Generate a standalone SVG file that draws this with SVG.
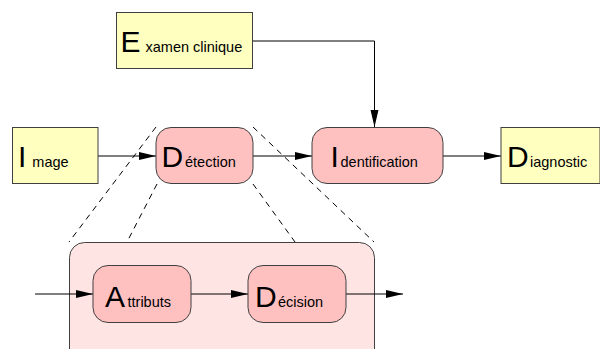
<svg xmlns="http://www.w3.org/2000/svg" width="600" height="349" viewBox="0 0 600 349">
  <style>
    .doc { fill: #ffffc0; stroke: #404040; stroke-width: 1; }
    .proc { fill: #ffc0c0; stroke: #404040; stroke-width: 1; }
    .zoom { fill: #ffe4e4; stroke: #404040; stroke-width: 1; }
    .link { fill: none; stroke: #000; stroke-width: 1; }
    .dash { fill: none; stroke: #000; stroke-width: 1; stroke-dasharray: 6 5; }
    text { font-family: "Liberation Sans", Arial, sans-serif; fill: #000; }
    .cap { font-size: 30px; }
    .rest { font-size: 14.5px; }
  </style>
  <defs>
    <marker id="arrow" markerUnits="userSpaceOnUse" markerWidth="18" markerHeight="9" refX="17" refY="4" orient="auto">
      <path d="M0,0 L17,4 L0,8 z" fill="#000"/>
    </marker>
  </defs>

  <!-- projection lines from the Détection block to its expanded view -->
  <g id="projection">
    <line class="dash" x1="156" y1="127" x2="69" y2="242"/>
    <line class="dash" x1="157" y1="184" x2="127" y2="242"/>
    <line class="dash" x1="253" y1="184" x2="295" y2="242"/>
    <line class="dash" x1="253" y1="127" x2="374" y2="242"/>
  </g>

  <!-- expanded view of Détection -->
  <g id="detail">
    <rect class="zoom" x="69.5" y="242.5" width="305" height="130" rx="15"/>
  </g>

  <g id="connectors">
    <polyline class="link" points="253,41 374.5,41 374.5,127" marker-end="url(#arrow)"/>
    <line class="link" x1="98" y1="156" x2="156" y2="156" marker-end="url(#arrow)"/>
    <line class="link" x1="253" y1="156" x2="312" y2="156" marker-end="url(#arrow)"/>
    <line class="link" x1="443" y1="156" x2="501" y2="156" marker-end="url(#arrow)"/>
    <line class="link" x1="35" y1="294" x2="93" y2="294" marker-end="url(#arrow)"/>
    <line class="link" x1="191" y1="294" x2="248" y2="294" marker-end="url(#arrow)"/>
    <line class="link" x1="346" y1="294" x2="403" y2="294" marker-end="url(#arrow)"/>
  </g>

  <g id="examen">
    <rect class="doc" x="116.5" y="12.5" width="136" height="56"/>
    <text x="120.5" y="52"><tspan class="cap">E</tspan><tspan class="rest" x="145.5">xamen clinique</tspan></text>
  </g>

  <g id="image">
    <rect class="doc" x="12.5" y="127.5" width="85.5" height="56"/>
    <text x="18" y="167"><tspan class="cap">I</tspan><tspan class="rest" x="32.3">mage</tspan></text>
  </g>

  <g id="detection">
    <rect class="proc" x="156" y="127.5" width="97" height="56" rx="15"/>
    <text x="161.5" y="166.5"><tspan class="cap">D</tspan><tspan class="rest" x="185">étection</tspan></text>
  </g>

  <g id="identification">
    <rect class="proc" x="312" y="127.5" width="131" height="56" rx="15"/>
    <text x="330.5" y="166.5"><tspan class="cap">I</tspan><tspan class="rest" x="340.5">dentification</tspan></text>
  </g>

  <g id="diagnostic">
    <rect class="doc" x="501" y="127.5" width="99" height="56"/>
    <text x="507" y="166.5"><tspan class="cap">D</tspan><tspan class="rest" x="530">iagnostic</tspan></text>
  </g>

  <g id="attributs">
    <rect class="proc" x="93" y="265.5" width="98" height="57" rx="15"/>
    <text x="105" y="306.5"><tspan class="cap">A</tspan><tspan class="rest" x="127.5">ttributs</tspan></text>
  </g>

  <g id="decision">
    <rect class="proc" x="248" y="265.5" width="98" height="57" rx="15"/>
    <text x="255" y="306.5"><tspan class="cap">D</tspan><tspan class="rest" x="278">écision</tspan></text>
  </g>
</svg>
